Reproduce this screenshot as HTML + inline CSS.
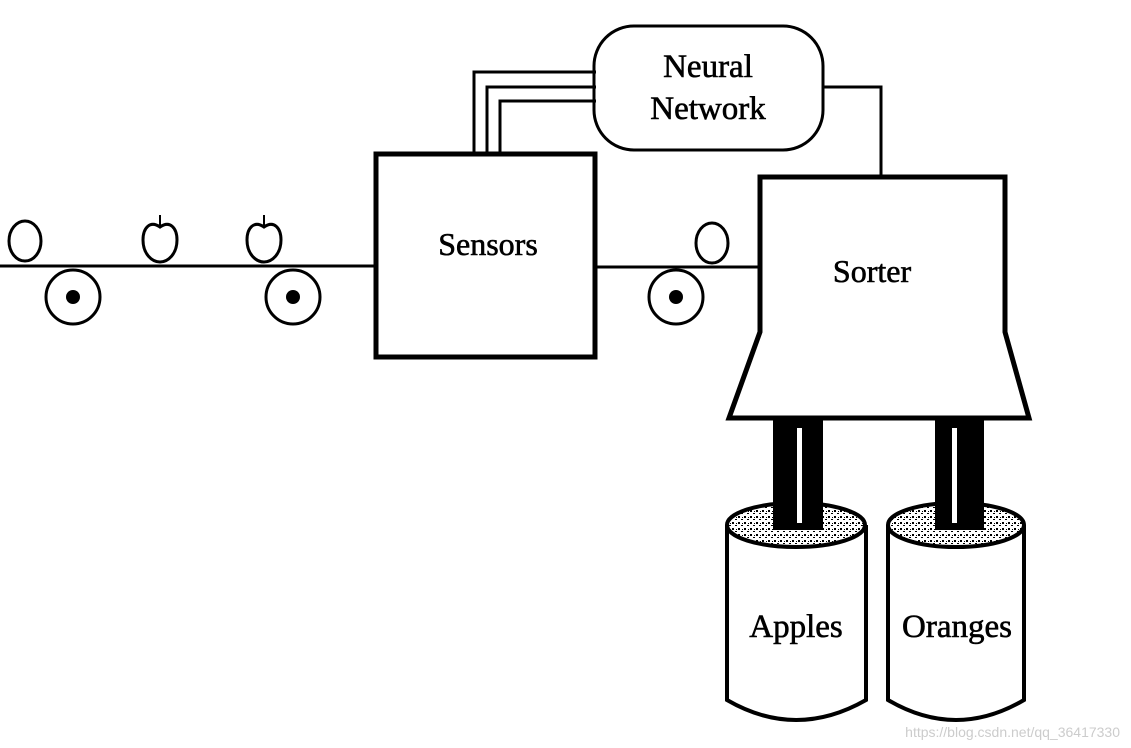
<!DOCTYPE html>
<html><head><style>
html,body{margin:0;padding:0;background:#fff;}
svg{display:block;}
text{font-family:"Liberation Serif",serif;fill:#000;}
.lbl{stroke:#000;stroke-width:0.6;}
</style></head><body>
<svg width="1131" height="748" viewBox="0 0 1131 748" xmlns="http://www.w3.org/2000/svg">
<defs>
<pattern id="speck" width="6" height="6" patternUnits="userSpaceOnUse">
<rect width="6" height="6" fill="#fff"/>
<rect x="0" y="0" width="2" height="2" fill="#000"/>
<rect x="3" y="3" width="2" height="1" fill="#000"/>
<rect x="4" y="1" width="1" height="1" fill="#000"/>
</pattern>
</defs>
<g fill="none" stroke="#000">
<line x1="0" y1="266" x2="374" y2="266" stroke-width="3"/>
<line x1="597" y1="267" x2="760" y2="267" stroke-width="3"/>
<circle cx="73" cy="297" r="27" stroke-width="3"/>
<circle cx="293" cy="297" r="27" stroke-width="3"/>
<circle cx="676" cy="297" r="27" stroke-width="3"/>
<ellipse cx="25" cy="241" rx="16" ry="20" stroke-width="3"/>
<path d="M160,227 C150,220 143,228 143,240 C143,254 152,262 160,262 C168,262 177,254 177,240 C177,228 170,220 160,227 Z" stroke-width="3"/>
<line x1="160" y1="215" x2="160" y2="228" stroke-width="2"/>
<path d="M264,227 C254,220 247,228 247,240 C247,254 256,262 264,262 C272,262 281,254 281,240 C281,228 274,220 264,227 Z" stroke-width="3"/>
<line x1="264" y1="215" x2="264" y2="228" stroke-width="2"/>
<ellipse cx="712" cy="243" rx="16" ry="20" stroke-width="3"/>
<rect x="376" y="154" width="219" height="203" stroke-width="5"/>
<polyline points="474,154 474,72 596,72" stroke-width="3"/>
<polyline points="487,154 487,87 596,87" stroke-width="3"/>
<polyline points="500,154 500,101 596,101" stroke-width="3"/>
<polyline points="822,87 881,87 881,177" stroke-width="3"/>
<rect x="594" y="26" width="229" height="124" rx="40" ry="40" stroke-width="3"/>
<path d="M760,177 L1005,177 L1005,332 L1029,418 L729,418 L760,332 Z" stroke-width="5"/>
<path d="M727,525 L727,700 Q796,740 866,700 L866,525" fill="#fff" stroke-width="4"/>
<ellipse cx="796" cy="525" rx="69" ry="22" fill="url(#speck)" stroke-width="4"/>
<path d="M888,525 L888,700 Q956,740 1024,700 L1024,525" fill="#fff" stroke-width="4"/>
<ellipse cx="956" cy="525" rx="68" ry="22" fill="url(#speck)" stroke-width="4"/>
</g>
<circle cx="73" cy="297" r="7" fill="#000"/>
<circle cx="293" cy="297" r="7" fill="#000"/>
<circle cx="676" cy="297" r="7" fill="#000"/>
<rect x="773" y="420" width="50" height="110" fill="#000"/>
<rect x="797" y="428" width="5" height="95" fill="#fff"/>
<rect x="935" y="420" width="49" height="110" fill="#000"/>
<rect x="952" y="428" width="5" height="95" fill="#fff"/>
<text class="lbl" x="488" y="255" font-size="32" text-anchor="middle">Sensors</text>
<text class="lbl" x="872" y="282" font-size="32" text-anchor="middle">Sorter</text>
<text class="lbl" x="708" y="77" font-size="33" text-anchor="middle">Neural</text>
<text class="lbl" x="708" y="119" font-size="33" text-anchor="middle">Network</text>
<text class="lbl" x="796" y="637" font-size="33" text-anchor="middle">Apples</text>
<text class="lbl" x="957" y="637" font-size="33" text-anchor="middle">Oranges</text>
<text x="1120" y="737" font-size="14" text-anchor="end" style="font-family:'Liberation Sans',sans-serif;fill:#ccc">https://blog.csdn.net/qq_36417330</text>
</svg>
</body></html>
